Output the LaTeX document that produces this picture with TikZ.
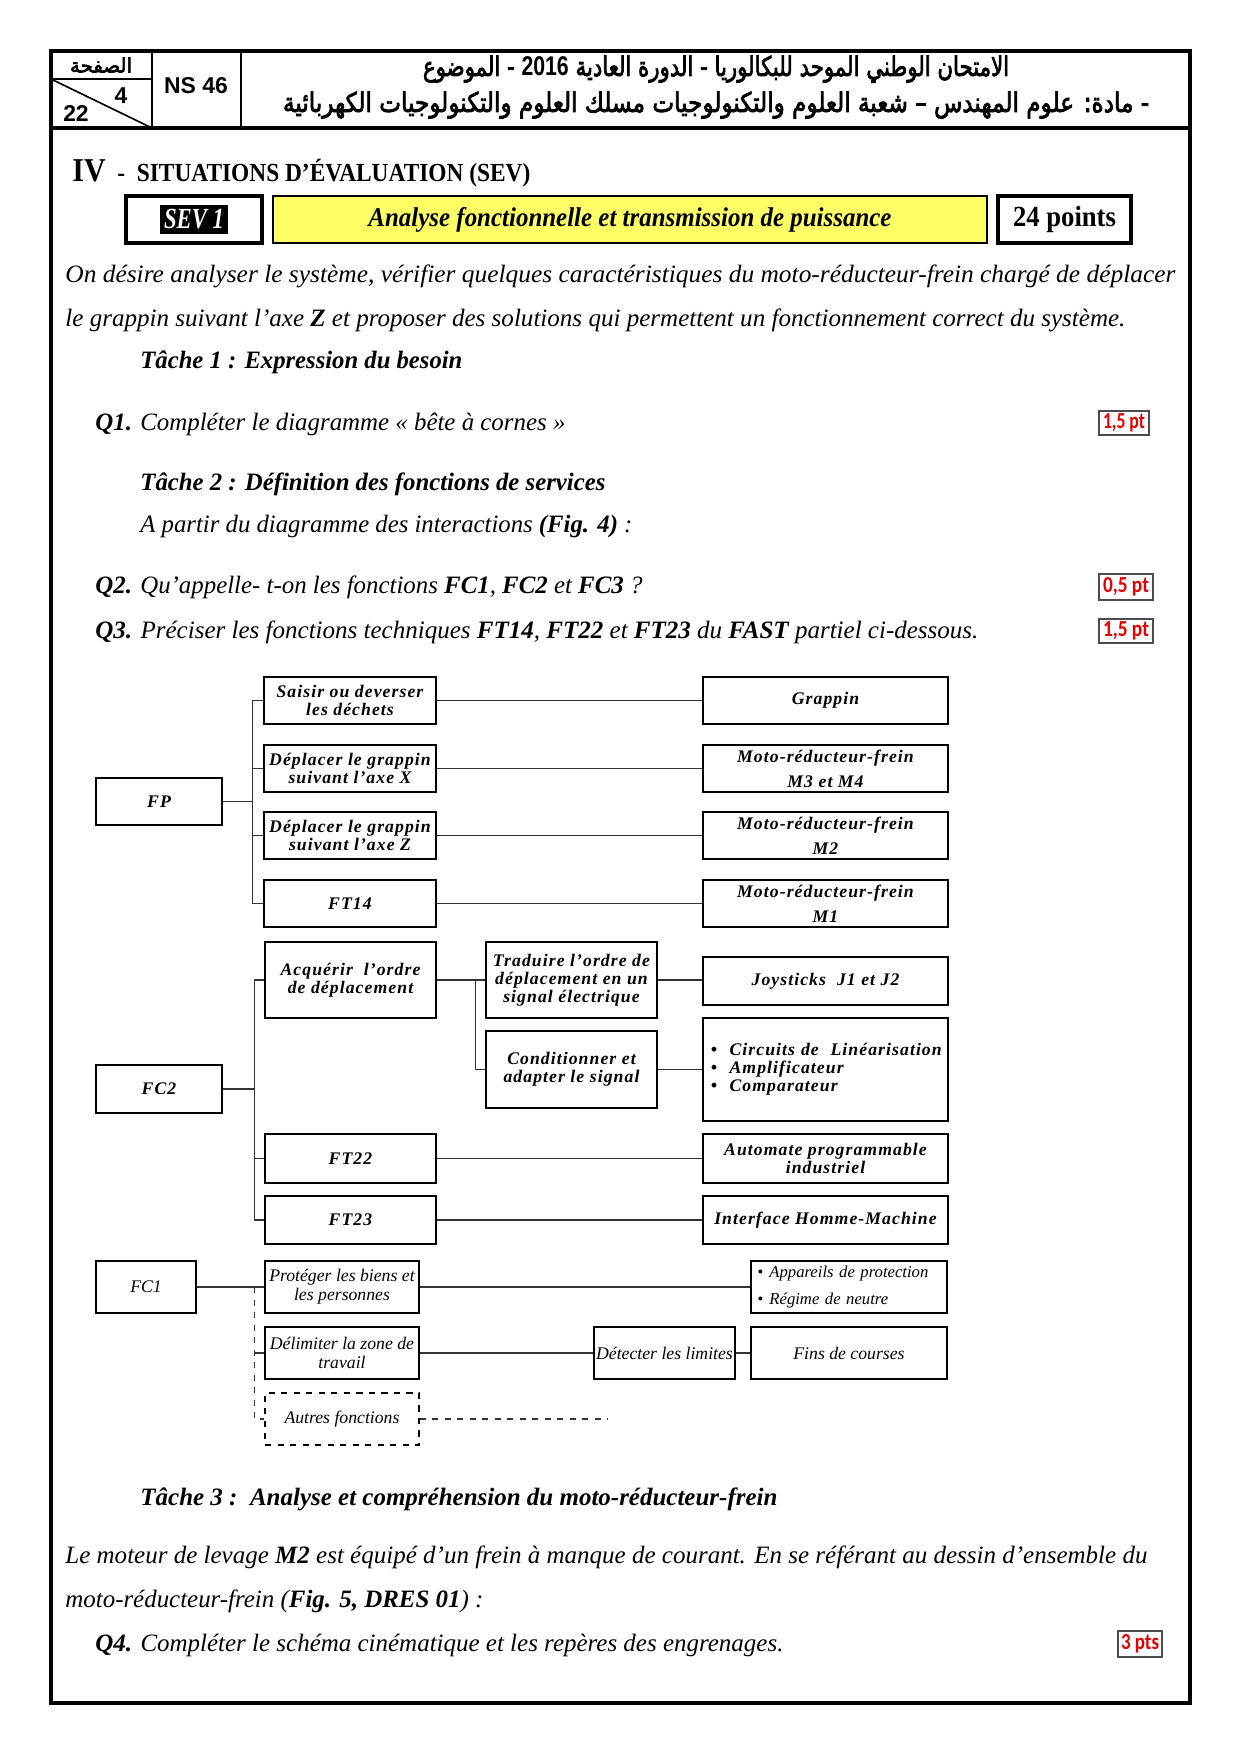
\documentclass[tikz,border=0pt]{standalone}
\usepackage{fontspec}
\usepackage{graphicx}
\usetikzlibrary{positioning}
\setmainfont{Liberation Serif}
\setsansfont{Liberation Sans}
\newfontfamily\arabicfont[Script=Arabic,FakeBold=3]{DejaVu Sans}
\newfontfamily\fastfont[LetterSpace=6]{Liberation Serif}
\newfontfamily\markfont{Carlito}
\TeXXeTstate=1
\definecolor{sevyellow}{RGB}{255,255,102}
\definecolor{markred}{RGB}{228,0,0}
\newdimen\pxu \pxu=0.48pt
\newcommand\fitw[2]{\resizebox{#1\pxu}{\height}{#2}}
\newcommand\fastsize{\fastfont\fontsize{8.5}{8.6}\selectfont\bfseries\itshape}

\begin{document}
\begin{tikzpicture}[
  x=0.48pt, y=-0.48pt,
  wh/.style 2 args={minimum width=#1*0.48pt, minimum height=#2*0.48pt},
  txt/.style={anchor=base west, inner sep=0pt, font=\fontsize{12}{14}\selectfont\itshape},
  head/.style={txt, font=\fontsize{12}{14}\selectfont\bfseries\itshape},
  ptsbox/.style={draw=black!70, line width=0.6pt, inner sep=0pt, text=markred, font=\markfont\fontsize{11}{11}\selectfont\bfseries},
  fbox/.style={draw, line width=0.6pt, fill=white, align=center, inner sep=1pt, font=\fastsize},
  mbox/.style={fbox, font=\fastfont\fontsize{8.5}{12}\selectfont\bfseries\itshape},
  gbox/.style={fbox, font=\fontsize{8.5}{9.2}\selectfont\itshape},
  link/.style={line width=0.6pt, black!80}
]
  \fill[white] (0,0) rectangle (1241,1755);
  \useasboundingbox (0,0) rectangle (1241,1755);

  % page frame and header
  \draw[line width=1.6pt] (51,51) rectangle (1190,1703);
  \draw[line width=1.6pt] (51,128) -- (1190,128);
  \draw[line width=1.2pt] (152,51) -- (152,128) (241,51) -- (241,128);
  \draw[line width=0.8pt] (51,79) -- (152,79) (51,79) -- (152,128);
  \node[font=\arabicfont\fontsize{9.5}{10}\selectfont] (pagelbl) at (101,65) {\beginR الصفحة\endR};
  \node[font=\sffamily\bfseries\fontsize{11}{11}\selectfont] (pgnum) at (121,96) {4};
  \node[font=\sffamily\bfseries\fontsize{11}{11}\selectfont] (pgtot) at (76,113) {22};
  \node[font=\sffamily\bfseries\fontsize{11}{11}\selectfont] (code) at (196,86) {NS 46};
  \node[font=\arabicfont\fontsize{13}{13}\selectfont] (exam) at (716,69)
    {\fitw{586}{\beginR الامتحان الوطني الموحد للبكالوريا - الدورة العادية \beginL{\sffamily\bfseries 2016}\endL{} - الموضوع\endR}};
  \node[font=\arabicfont\fontsize{13}{13}\selectfont] (subject) at (716,105)
    {\fitw{866}{\beginR - مادة: علوم المهندس – شعبة العلوم والتكنولوجيات مسلك العلوم والتكنولوجيات الكهربائية\endR}};

  % section title
  \node[txt, font=\fontsize{12.5}{14}\selectfont\bfseries] (sect) at (72,181)
    {\fitw{458}{{\fontsize{16}{16}\selectfont IV}\ \ -\ \ SITUATIONS D’ÉVALUATION (SEV)}};
  \node[draw, line width=1.8pt, wh={136}{47}] (sev) at (194,219.5) {};
  \node[fill=black, text=white, inner sep=1pt, wh={68}{29}, font=\fontsize{14}{14}\selectfont\bfseries\itshape] (sevlbl) at (sev.center) {\fitw{60}{SEV 1}};
  \node[draw, line width=1.4pt, fill=sevyellow, wh={714}{47}, font=\fontsize{13}{13}\selectfont\bfseries\itshape] (theme) at (630,219.5)
    {\fitw{523}{Analyse fonctionnelle et transmission de puissance}};
  \node[draw, line width=1.8pt, wh={133}{47}, font=\fontsize{14}{14}\selectfont\bfseries] (total) at (1064.5,219.5) {\fitw{103}{24 points}};

  % statement
  \node[txt] (intro1) at (65,282) {\fitw{1110}{On désire analyser le système, vérifier quelques caractéristiques du moto-réducteur-frein chargé de déplacer}};
  \node[txt] (intro2) at (65,326) {\fitw{1060}{le grappin suivant l’axe \textbf{Z} et proposer des solutions qui permettent un fonctionnement correct du système.}};
  \node[head] (task1) at (140,368) {\fitw{322}{Tâche 1 : Expression du besoin}};
  \node[txt] (q1) at (95,430) {\fitw{470}{\textbf{Q1.} Compléter le diagramme « bête à cornes »}};
  \node[ptsbox, wh={50}{24}] (q1pts) at (1124,423) {\fitw{42}{1,5 pt}};
  \node[head] (task2) at (140,490) {\fitw{465}{Tâche 2 : Définition des fonctions de services}};
  \node[txt] (from) at (140,532) {\fitw{492}{A partir du diagramme des interactions \textbf{(Fig. 4)} :}};
  \node[txt] (q2) at (95,593) {\fitw{547}{\textbf{Q2.} Qu’appelle- t-on les fonctions \textbf{FC1}, \textbf{FC2} et \textbf{FC3} ?}};
  \node[ptsbox, wh={54}{26}] (q2pts) at (1126,587) {\fitw{46}{0,5 pt}};
  \node[txt] (q3) at (95,638) {\fitw{883}{\textbf{Q3.} Préciser les fonctions techniques \textbf{FT14}, \textbf{FT22} et \textbf{FT23} du \textbf{FAST} partiel ci-dessous.}};
  \node[ptsbox, wh={54}{24}] (q3pts) at (1126,631) {\fitw{46}{1,5 pt}};

  % FAST: FP
  \node[fbox, wh={126}{47}] (fp) at (159,801.5) {FP};
  \node[fbox, wh={172}{47}] (fa) at (350,700.5) {Saisir ou deverser\\les déchets};
  \node[fbox, wh={172}{47}] (fb) at (350,768.5) {Déplacer le grappin\\suivant l’axe X};
  \node[fbox, wh={172}{47}] (fc) at (350,835.5) {Déplacer le grappin\\suivant l’axe Z};
  \node[fbox, wh={172}{47}] (fd) at (350,903.5) {FT14};
  \node[mbox, wh={245}{47}] (ra) at (825.5,700.5) {Grappin};
  \node[mbox, wh={245}{47}] (rb) at (825.5,768.5) {Moto-réducteur-frein\\M3 et M4};
  \node[mbox, wh={245}{47}] (rc) at (825.5,835.5) {Moto-réducteur-frein\\M2};
  \node[mbox, wh={245}{47}] (rd) at (825.5,903.5) {Moto-réducteur-frein\\M1};
  \foreach \n in {fa,fb,fc,fd}
    \draw[link] (\n.west) -- ++(-11,0) |- (fp.east);
  \foreach \n/\m in {fa/ra,fb/rb,fc/rc,fd/rd}
    \draw[link] (\n) -- (\m);

  % FAST: FC2
  \node[fbox, wh={126}{48}] (fc2) at (159,1089) {FC2};
  \node[fbox, wh={171}{76}] (acq) at (350.5,980) {Acquérir~ l’ordre\\de déplacement};
  \node[fbox, wh={171}{76}] (trad) at (571.5,980) {Traduire l’ordre de\\déplacement en un\\signal électrique};
  \node[fbox, wh={171}{77}] (cond) at (571.5,1069.5) {Conditionner et\\adapter le signal};
  \node[fbox, wh={245}{48}] (joy) at (825.5,981) {Joysticks~ J1 et J2};
  \node[fbox, wh={245}{103}, text width=110pt, align=left] (circ) at (825.5,1069.5)
    {\textbullet\hspace{6pt}Circuits de~ Linéarisation\\\textbullet\hspace{6pt}Amplificateur\\\textbullet\hspace{6pt}Comparateur};
  \node[fbox, wh={171}{49}] (ft22) at (350.5,1158.5) {FT22};
  \node[fbox, wh={245}{49}] (apl) at (825.5,1158.5) {Automate programmable\\industriel};
  \node[fbox, wh={171}{48}] (ft23) at (350.5,1220) {FT23};
  \node[fbox, wh={245}{48}] (ihm) at (825.5,1220) {Interface Homme-Machine};
  \foreach \n in {acq,ft22,ft23}
    \draw[link] (\n.west) -- ++(-10,0) |- (fc2.east);
  \draw[link] (acq) -- (trad);
  \draw[link] (cond.west) -- ++(-10,0) |- (acq.east);
  \draw[link] (trad.east) -- (trad.east -| joy.west);
  \draw[link] (cond) -- (circ);
  \draw[link] (ft22) -- (apl);
  \draw[link] (ft23) -- (ihm);

  % FAST: FC1
  \node[gbox, wh={100}{52}] (fc1) at (146,1287) {FC1};
  \node[gbox, wh={154}{52}] (prot) at (342,1287) {Protéger les biens et\\les personnes};
  \node[gbox, wh={196}{52}, text width=88pt, align=left, font=\fontsize{8}{13}\selectfont\itshape] (app) at (849,1287)
    {\textbullet\hspace{3pt}Appareils de protection\\\textbullet\hspace{3pt}Régime de neutre};
  \node[gbox, wh={154}{52}] (delim) at (342,1353) {Délimiter la zone de\\travail};
  \node[gbox, wh={137}{52}] (det) at (664.5,1353) {Détecter les limites};
  \node[gbox, wh={196}{52}] (fins) at (849,1353) {Fins de courses};
  \node[gbox, dashed, wh={154}{52}] (other) at (342,1419) {Autres fonctions};
  \coordinate (otherend) at (608,1419);
  \draw[link] (fc1) -- (prot);
  \draw[link] (prot) -- (app);
  \draw[link, dashed] ([xshift=-4.8pt]prot.west) |- (other.west);
  \draw[link] (delim.west) -- ++(-10,0);
  \draw[link] (delim) -- (det);
  \draw[link] (det) -- (fins);
  \draw[link, dashed] (other) -- (otherend);

  % task 3
  \node[head] (task3) at (140,1505) {\fitw{637}{Tâche 3 :\ \ Analyse et compréhension du moto-réducteur-frein}};
  \node[txt] (brake1) at (65,1563) {\fitw{1082}{Le moteur de levage \textbf{M2} est équipé d’un frein à manque de courant. En se référant au dessin d’ensemble du}};
  \node[txt] (brake2) at (65,1607) {\fitw{418}{moto-réducteur-frein (\textbf{Fig. 5, DRES 01}) :}};
  \node[txt] (q4) at (95,1651) {\fitw{688}{\textbf{Q4.} Compléter le schéma cinématique et les repères des engrenages.}};
  \node[ptsbox, wh={44}{26}] (q4pts) at (1140,1644) {\fitw{38}{3 pts}};
\end{tikzpicture}
\end{document}
